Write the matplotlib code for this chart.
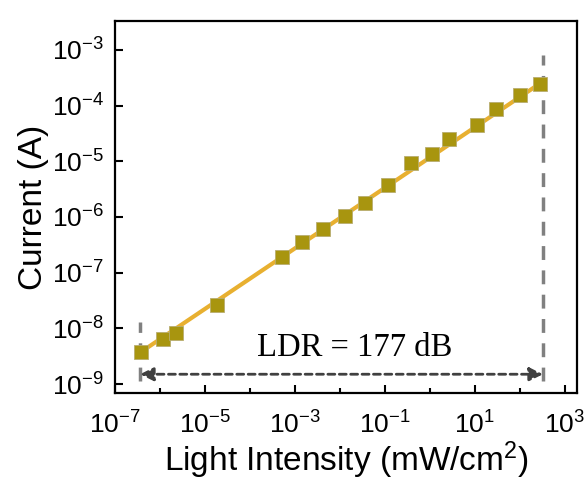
import numpy as np
import matplotlib
matplotlib.use('Agg')
import matplotlib.pyplot as plt
from matplotlib.ticker import FixedLocator, LogFormatterSciNotation, NullFormatter

plt.rcParams['font.family'] = ['Liberation Sans', 'DejaVu Sans']
plt.rcParams['mathtext.default'] = 'regular'

# measured points (light intensity in mW/cm2, current in A)
intensity = [3.8e-7, 1.17e-6, 2.3e-6, 1.86e-5, 5.2e-4, 1.43e-3, 4.2e-3, 1.3e-2,
             3.6e-2, 0.117, 0.38, 1.1, 2.6, 11, 29.5, 100, 277]
current = [3.8e-9, 6.5e-9, 8.3e-9, 2.6e-8, 1.9e-7, 3.5e-7, 6.1e-7, 1.05e-6,
           1.8e-6, 3.8e-6, 9.4e-6, 1.35e-5, 2.5e-5, 4.5e-5, 8.7e-5, 1.55e-4, 2.45e-4]

# linear fit line (end points)
fit_x = [3.3e-7, 300]
fit_y = [3.5e-9, 2.6e-4]

# LDR range limits
ldr_lo = 3.6e-7
ldr_hi = 324
ldr_text = 'LDR = 177 dB'

x_major = [1e-7, 1e-5, 1e-3, 1e-1, 1e1, 1e3]
x_minor = [1e-6, 1e-4, 1e-2, 1e0, 1e2]
y_major = [1e-9, 1e-8, 1e-7, 1e-6, 1e-5, 1e-4, 1e-3]

fig = plt.figure(figsize=(5.85, 4.83), dpi=100)
ax = fig.add_axes([0.1966, 0.1863, 0.7897, 0.7702])

ax.plot(fit_x, fit_y, color='#E8B030', lw=3, zorder=2)
ax.plot(intensity, current, 's', ms=9.5, color='#A8950F', mec='#B8AD70', mew=0.6, zorder=3)

# vertical dashed limits
ax.plot([ldr_lo, ldr_lo], [1.15e-9, 1.3e-8], color='#808080', lw=2.5, ls=(0, (4, 3)), zorder=1)
ax.plot([ldr_hi, ldr_hi], [1.15e-9, 8e-4], color='#808080', lw=2.5, ls=(0, (4, 3)), zorder=1)

# double arrow
ax.annotate('', xy=(ldr_lo, 1.5e-9), xytext=(ldr_hi, 1.5e-9),
            arrowprops=dict(arrowstyle='<|-|>', color='#404040', lw=2,
                            ls=(0, (2.5, 1.6)), mutation_scale=20, shrinkA=0, shrinkB=0))
ax.text(2.1e-2, 4.4e-9, ldr_text, fontsize=23.5, family='Liberation Serif', ha='center', va='center')

ax.set_xscale('log')
ax.set_yscale('log')
ax.set_xlim(1e-7, 1.85e3)
ax.set_ylim(6.9e-10, 3.3e-3)

ax.xaxis.set_major_locator(FixedLocator(x_major))
ax.xaxis.set_minor_locator(FixedLocator(x_minor))
ax.xaxis.set_major_formatter(LogFormatterSciNotation())
ax.xaxis.set_minor_formatter(NullFormatter())
ax.yaxis.set_major_locator(FixedLocator(y_major))
ax.yaxis.set_minor_locator(FixedLocator([]))
ax.yaxis.set_major_formatter(LogFormatterSciNotation())

ax.tick_params(which='major', direction='in', length=6, width=1.5, labelsize=19)
ax.tick_params(axis='x', which='major', pad=13)
ax.tick_params(axis='y', which='major', pad=8)
ax.tick_params(which='minor', direction='in', length=3.5, width=1.5)
for s in ax.spines.values():
    s.set_linewidth(1.6)

ax.set_xlabel('Light Intensity (mW/cm$^2$)', fontsize=24, labelpad=1)
ax.set_ylabel('Current (A)', fontsize=24, labelpad=2)

fig.savefig('out.png', dpi=100)
